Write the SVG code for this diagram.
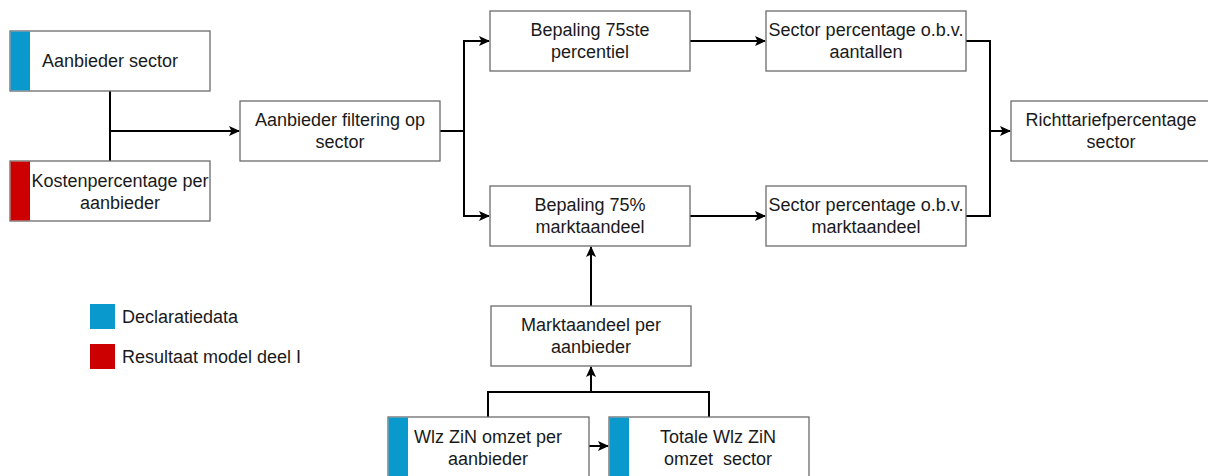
<svg xmlns="http://www.w3.org/2000/svg" width="1208" height="476" viewBox="0 0 1208 476">
<style>
.box{fill:#fff;stroke:#6b6b6b;stroke-width:1.3}
.blue{fill:#0a99cc}
.red{fill:#cc0000}
.t{font-family:"Liberation Sans",Arial,sans-serif;font-size:18px;fill:#1a1a1a;text-anchor:middle;white-space:pre}
.lg{font-family:"Liberation Sans",Arial,sans-serif;font-size:18px;fill:#1a1a1a}
.c{fill:none;stroke:#000;stroke-width:2}
</style>
<defs>
<marker id="ah" markerWidth="11" markerHeight="10" refX="10" refY="5" orient="auto" markerUnits="userSpaceOnUse">
<path d="M0,0 L11,5 L0,10 L2.5,5 Z" fill="#000"/>
</marker>
</defs>
<rect width="1208" height="476" fill="#fff"/>
<g id="connectors">
<path class="c" d="M110,91 V161"/>
<path class="c" d="M110,131 H239" marker-end="url(#ah)"/>
<path class="c" d="M440,131 H464"/>
<path class="c" d="M464,131 V41 H489" marker-end="url(#ah)"/>
<path class="c" d="M464,131 V216 H489" marker-end="url(#ah)"/>
<path class="c" d="M690,41 H765" marker-end="url(#ah)"/>
<path class="c" d="M690,216 H765" marker-end="url(#ah)"/>
<path class="c" d="M966,41 H990 V216 H966"/>
<path class="c" d="M990,131 H1010" marker-end="url(#ah)"/>
<path class="c" d="M591,306 V247" marker-end="url(#ah)"/>
<path class="c" d="M488,417 V392 H709 V417"/>
<path class="c" d="M591,392 V367" marker-end="url(#ah)"/>
<path class="c" d="M589,446 H608" marker-end="url(#ah)"/>
</g>
<g id="aanbieder-sector">
<rect class="box" x="10" y="31" width="200" height="60"/>
<rect class="blue" x="10.6" y="31.6" width="19.4" height="58.8"/>
<text class="t" x="110" y="67">Aanbieder sector</text>
</g>
<g id="kostenpercentage">
<rect class="box" x="10" y="161" width="200" height="60"/>
<rect class="red" x="10.6" y="161.6" width="19.4" height="58.8"/>
<text class="t" x="120" y="187">Kostenpercentage per</text>
<text class="t" x="120" y="209">aanbieder</text>
</g>
<g id="filtering">
<rect class="box" x="240" y="101" width="200" height="60"/>
<text class="t" x="340" y="126">Aanbieder filtering op</text>
<text class="t" x="340" y="148">sector</text>
</g>
<g id="bepaling-75ste">
<rect class="box" x="490" y="11" width="200" height="60"/>
<text class="t" x="590" y="36">Bepaling 75ste</text>
<text class="t" x="590" y="58">percentiel</text>
</g>
<g id="sector-aantallen">
<rect class="box" x="766" y="11" width="200" height="60"/>
<text class="t" x="866" y="36">Sector percentage o.b.v.</text>
<text class="t" x="866" y="58">aantallen</text>
</g>
<g id="bepaling-75pct">
<rect class="box" x="490" y="186" width="200" height="60"/>
<text class="t" x="590" y="211">Bepaling 75%</text>
<text class="t" x="590" y="233">marktaandeel</text>
</g>
<g id="sector-marktaandeel">
<rect class="box" x="766" y="186" width="200" height="60"/>
<text class="t" x="866" y="211">Sector percentage o.b.v.</text>
<text class="t" x="866" y="233">marktaandeel</text>
</g>
<g id="richttarief">
<rect class="box" x="1011" y="101" width="200" height="60"/>
<text class="t" x="1111" y="126">Richttariefpercentage</text>
<text class="t" x="1111" y="148">sector</text>
</g>
<g id="marktaandeel-per-aanbieder">
<rect class="box" x="491" y="306" width="200" height="60"/>
<text class="t" x="591" y="331">Marktaandeel per</text>
<text class="t" x="591" y="353">aanbieder</text>
</g>
<g id="wlz-omzet">
<rect class="box" x="388" y="417" width="201" height="62"/>
<rect class="blue" x="388.6" y="417.6" width="19.4" height="60"/>
<text class="t" x="488" y="443">Wlz ZiN omzet per</text>
<text class="t" x="488" y="465">aanbieder</text>
</g>
<g id="totale-omzet">
<rect class="box" x="609" y="417" width="200" height="62"/>
<rect class="blue" x="609.6" y="417.6" width="19.4" height="60"/>
<text class="t" x="718" y="443">Totale Wlz ZiN</text>
<text class="t" x="718" y="465">omzet  sector</text>
</g>
<g id="legend">
<rect class="blue" x="90" y="304" width="25" height="25"/>
<text class="lg" x="122" y="323">Declaratiedata</text>
<rect class="red" x="90" y="344" width="25" height="25"/>
<text class="lg" x="122" y="363">Resultaat model deel I</text>
</g>
</svg>
